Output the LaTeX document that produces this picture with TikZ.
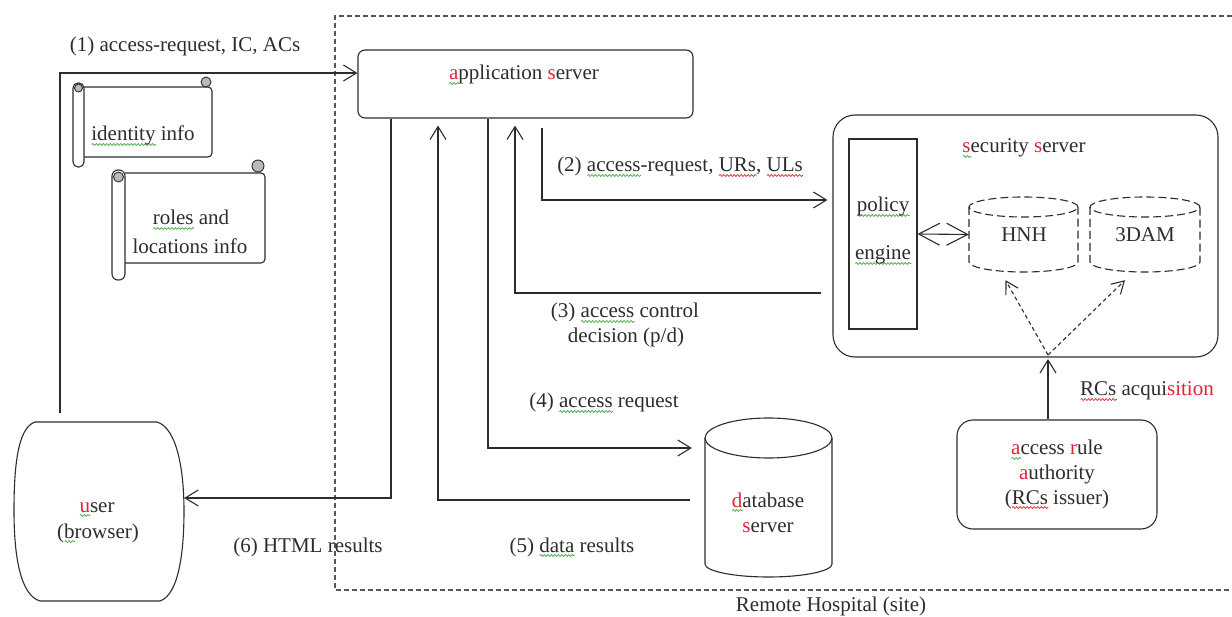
\documentclass[tikz,border=0pt]{standalone}
\usepackage{fontspec}
\setmainfont{Liberation Serif}
\usetikzlibrary{arrows.meta,decorations.pathmorphing}
\definecolor{ink}{RGB}{45,45,45}
\definecolor{wred}{RGB}{225,35,55}
\definecolor{sqg}{RGB}{70,170,70}
\definecolor{sqr}{RGB}{220,50,50}
\newsavebox\sqbox
\newcommand\sqline[2]{\sbox\sqbox{#2}\rlap{\tikz[baseline=0pt,x=1pt,y=1pt]\draw[draw=#1, line width=0.7pt, decorate, decoration={snake,amplitude=1pt,segment length=3.5pt}] (0,-3.5) -- (\the\wd\sqbox,-3.5);}\usebox\sqbox}
\newcommand\gw[1]{\sqline{sqg}{#1}}
\newcommand\rw[1]{\sqline{sqr}{#1}}
\tikzset{
  ln/.style={draw=ink, line width=1.1pt},
  arr/.style={ln, -{Straight Barb[length=13pt,width=16pt,line width=1.1pt]}},
  dblarr/.style={ln, {Straight Barb[length=21pt,width=22pt,line width=1.1pt]}-{Straight Barb[length=21pt,width=22pt,line width=1.1pt]}},
  darr/.style={ln, dash pattern=on 4pt off 3pt, -{Straight Barb[length=12pt,width=14pt,line width=1.1pt]}},
  rbox/.style={draw=ink, line width=1.1pt, rounded corners=#1, inner sep=0pt},
  pbox/.style={draw=ink, line width=1.1pt, inner sep=0pt},
  area/.style={inner sep=0pt},
  cyl/.style={ln, dash pattern=on 8pt off 4pt},
  hosp/.style={draw=ink!80, line width=1.1pt, dash pattern=on 5pt off 3pt},
  txt/.style={inner sep=0pt, text=ink, font=\fontsize{21}{25}\selectfont, text height=15pt, text depth=5pt},
  curl/.style={draw=ink, line width=0.9pt, fill=gray!55},
}
\begin{document}
\begin{tikzpicture}[x=1pt,y=1pt]
\useasboundingbox (0,0) rectangle (1232,-617);
\fill[white] (0,0) rectangle (1232,-617);

% helper coordinates
\coordinate (c1) at (60,-413);
\coordinate (c2) at (542,-128);
\coordinate (h2) at (0,-200);
\coordinate (h3) at (0,-293);
\coordinate (v3) at (515,0);
\coordinate (v4) at (488,0);
\coordinate (h4) at (0,-448);
\coordinate (h5) at (0,-500);
\coordinate (v5) at (438,0);
\coordinate (v6) at (391,0);
\coordinate (h6) at (0,-498);
\coordinate (rc) at (1048,-355);

% Remote hospital dashed area
\draw[hosp] (1240,-16) -- (335,-16) -- (335,-590) -- (1240,-590);
\node[txt] (hosplbl) at (831,-606) {Remote Hospital (site)};

% application server
\node[rbox=7pt, minimum width=335pt, minimum height=68pt] (app) at (525.5,-84) {};
\node[txt] (applbl) at (524,-75) {{\color{wred}\gw{a}}pplication {\color{wred}s}erver};

% security server
\node[rbox=22pt, minimum width=385pt, minimum height=242pt] (sec) at (1025.5,-236) {};
\node[txt] (seclbl) at (1024,-148) {{\color{wred}\gw{s}}ecurity {\color{wred}s}erver};

% policy engine
\node[pbox, minimum width=68pt, minimum height=190pt] (pe) at (883,-234) {};
\node[txt] (pe1) at (883,-207) {\gw{policy}};
\node[txt] (pe2) at (883,-255) {\gw{engine}};

% HNH cylinder
\node[area, minimum width=109pt, minimum height=75pt] (hnh) at (1023.5,-234.5) {};
\draw[cyl] (969,-207) -- (969,-262) arc[start angle=180,end angle=360,x radius=54.5,y radius=10] -- (1078,-207);
\draw[cyl] (1023.5,-207) ellipse[x radius=54.5,y radius=10];
\node[txt] (hnhlbl) at (1024,-237) {HNH};

% 3DAM cylinder
\node[area, minimum width=110pt, minimum height=75pt] (dam) at (1145,-234.5) {};
\draw[cyl] (1090,-207) -- (1090,-262) arc[start angle=180,end angle=360,x radius=55,y radius=10] -- (1200,-207);
\draw[cyl] (1145,-207) ellipse[x radius=55,y radius=10];
\node[txt] (damlbl) at (1145,-237) {3DAM};

% access rule authority
\node[rbox=16pt, minimum width=200pt, minimum height=109pt] (ara) at (1057,-474.5) {};
\node[txt] (ara1) at (1057,-450) {{\color{wred}\gw{a}}ccess {\color{wred}r}ule};
\node[txt] (ara2) at (1057,-474) {{\color{wred}a}uthority};
\node[txt] (ara3) at (1057,-499) {(\rw{RCs} issuer)};
\node[txt] (rcacq) at (1147,-391) {\rw{RCs} acqui{\color{wred}sition}};

% database server
\node[area, minimum width=127pt, minimum height=160pt] (db) at (768.5,-498) {};
\draw[ln] (705,-438) -- (705,-564) arc[start angle=180,end angle=360,x radius=63.5,y radius=13] -- (832,-438);
\draw[ln] (768.5,-438) ellipse[x radius=63.5,y radius=20];
\node[txt] (db1) at (768,-502) {{\color{wred}\gw{d}}atabase};
\node[txt] (db2) at (768,-527) {{\color{wred}s}erver};

% user (browser)
\node[area, minimum width=170pt, minimum height=179pt] (user) at (99,-511.5) {};
\draw[ln] (35,-422) -- (157,-422)
  .. controls (177,-428) and (184,-470) .. (184,-511)
  .. controls (184,-555) and (178,-595) .. (160,-601)
  -- (40,-601)
  .. controls (20,-595) and (14,-555) .. (14,-511)
  .. controls (14,-470) and (17,-428) .. (35,-422) -- cycle;
\node[txt] (user1) at (97,-507) {{\color{wred}\gw{u}}ser};
\node[txt] (user2) at (98,-533) {(\gw{b}rowser)};

% scrolls
\draw[ln, rounded corners=4pt] (84,-87) -- (212,-87) -- (212,-157) -- (84,-157);
\filldraw[curl] (206,-82) circle (5pt);
\draw[ln, fill=white, rounded corners=5pt] (73,-83) rectangle (84,-167);
\filldraw[curl] (78.5,-88) circle (4pt);
\node[txt] (idlbl) at (143,-136) {\gw{identity} info};

\draw[ln, rounded corners=4pt] (125,-173) -- (265,-173) -- (265,-263) -- (125,-263);
\filldraw[curl] (258,-166) circle (6pt);
\draw[ln, fill=white, rounded corners=6pt] (112,-170) rectangle (125,-280);
\filldraw[curl] (118.5,-177) circle (5pt);
\node[txt] (rl1) at (191,-220) {\gw{roles} and};
\node[txt] (rl2) at (190,-249) {locations info};

% connectors
\draw[arr] (c1) |- ([yshift=11pt]app.west);
\node[txt] (l1) at (185,-47) {(1) access-request, IC, ACs};

\draw[arr, shorten >=5pt] (c2) |- (sec.west |- h2);
\node[txt] (l2) at (680,-167) {(2) \gw{access}-request, \rw{URs}, \rw{ULs}};

\draw[arr, shorten <=11pt, shorten >=7pt] (sec.west |- h3) -| (app.south -| v3);
\node[txt] (l3a) at (625,-313) {(3) \gw{access} control};
\node[txt] (l3b) at (626,-338) {decision (p/d)};

\draw[arr, shorten >=13pt] (app.south -| v4) |- (db.west |- h4);
\node[txt] (l4) at (604,-403) {(4) \gw{access} request};

\draw[arr, shorten <=15pt, shorten >=7pt] (db.west |- h5) -| (app.south -| v5);
\node[txt] (l5) at (572,-547) {(5) \gw{data} results};

\draw[arr] (app.south -| v6) |- (user.east |- h6);
\node[txt] (l6) at (308,-547) {(6) HTML results};

\draw[dblarr] (pe.east) -- (hnh.west);
\draw[darr] (rc) -- ([xshift=-18pt,yshift=-8pt]hnh.south);
\draw[darr] (rc) -- ([xshift=-20pt,yshift=-8pt]dam.south);
\draw[arr] (ara.north -| rc) -- ([yshift=-4pt]rc);
\end{tikzpicture}
\end{document}
